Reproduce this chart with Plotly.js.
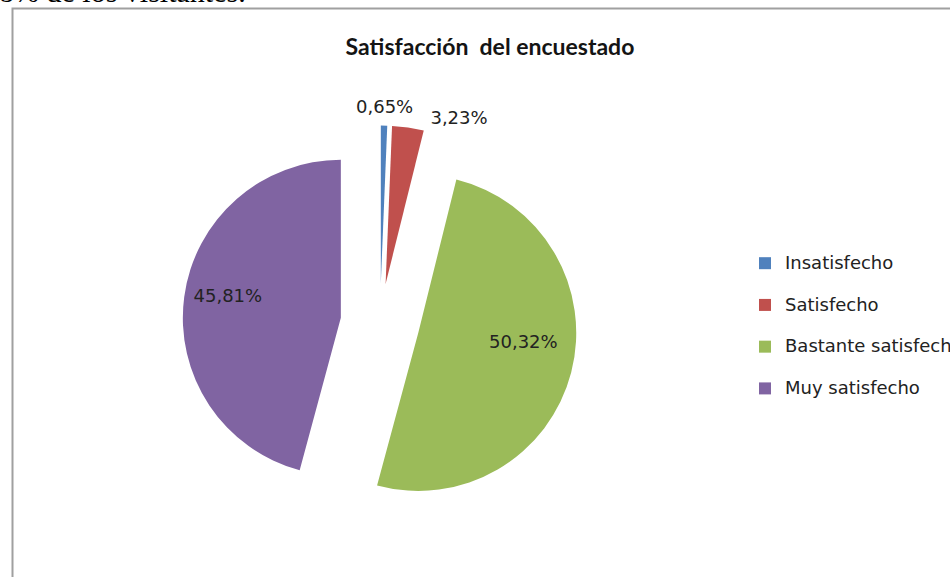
<!DOCTYPE html>
<html>
<head>
<meta charset="utf-8">
<script src="https://cdn.plot.ly/plotly-3.0.1.min.js"></script>
<style>html,body{margin:0;padding:0;background:#fff;}#chart{width:950px;height:577px;}</style>
</head>
<body>
<div id="chart"></div>
<script>
var categories = ["Insatisfecho", "Satisfecho", "Bastante satisfecho", "Muy satisfecho"];
var percentValues = [0.65, 3.23, 50.32, 45.81];
var sliceColors = ["#4F81BD", "#C0504D", "#9BBB59", "#8064A2"];
var chartTitle = "Satisfacción  del encuestado";
var pageText = "8% de los visitantes.";

var W = 950, H = 577;
function px(x) { return x / W; }
function py(y) { return 1 - y / H; }

var pullAmt = 0.25;
var radius = 158;
var boxHalf = radius * (1 + pullAmt);
var cx = 380, cy = 323;

var NB = '\u00A0';
function pad(n) { return new Array(n + 1).join(NB); }

var labelTexts = percentValues.map(function (v) { return v.toFixed(2).replace('.', ',') + '%'; });
// padding only shifts the visible glyphs to where the original chart shows them
var sliceTexts = labelTexts.slice();
sliceTexts[1] = pad(3) + labelTexts[1];
sliceTexts[2] = pad(10) + labelTexts[2] + '<br>' + NB;
sliceTexts[3] = labelTexts[3] + pad(12) + '<br>' + NB;

var legendLabels = categories.map(function (c) {
  return '<span style="font-size:18px">' + c + '</span><br> ';
});

// label of the thinnest slice: placed just above its exploded outer edge (computed from the data)
var total = percentValues.reduce(function (a, b) { return a + b; }, 0);
var midAng0 = (percentValues[0] / 2) / total * 2 * Math.PI;
var outerX = cx + (pullAmt * radius + radius) * Math.sin(midAng0);
var outerY = cy - (pullAmt * radius + radius) * Math.cos(midAng0);

var trace = {
  type: 'pie',
  labels: legendLabels,
  values: percentValues,
  text: sliceTexts,
  textinfo: 'text',
  hoverinfo: 'label+text',
  sort: false,
  direction: 'clockwise',
  rotation: 0,
  pull: [pullAmt, pullAmt, pullAmt, pullAmt],
  marker: { colors: sliceColors, line: { width: 0 } },
  textposition: ['none', 'outside', 'inside', 'inside'],
  insidetextorientation: 'horizontal',
  textfont: { family: 'DejaVu Sans', size: 18, color: '#222222' },
  outsidetextfont: { family: 'DejaVu Sans', size: 18, color: '#222222' },
  domain: {
    x: [px(cx - boxHalf - 2), px(cx + boxHalf + 2)],
    y: [py(cy + boxHalf), py(cy - boxHalf)]
  }
};

var layout = {
  width: W, height: H,
  margin: { l: 0, r: 0, t: 0, b: 0, pad: 0, autoexpand: false },
  paper_bgcolor: '#ffffff',
  plot_bgcolor: '#ffffff',
  font: { family: 'DejaVu Sans', size: 18, color: '#222222' },
  title: {
    text: chartTitle,
    x: px(490), xref: 'container', xanchor: 'center',
    y: py(47), yref: 'container', yanchor: 'middle',
    font: { family: 'Lato', size: 23, weight: 'bold', color: '#141414' }
  },
  showlegend: true,
  legend: {
    x: px(745), xanchor: 'left',
    y: py(247), yanchor: 'top',
    font: { family: 'DejaVu Sans', size: 14.9, color: '#222222' },
    valign: 'top',
    bgcolor: 'rgba(0,0,0,0)',
    borderwidth: 0
  },
  shapes: [{
    type: 'rect', xref: 'paper', yref: 'paper',
    x0: px(12.5), x1: px(960), y0: py(590), y1: py(8.5),
    line: { color: '#a0a0a0', width: 2 }, fillcolor: 'rgba(0,0,0,0)', layer: 'below'
  }],
  annotations: [{
    text: pageText, xref: 'paper', yref: 'paper',
    x: px(-3), xanchor: 'left', y: py(-8), yanchor: 'middle',
    showarrow: false,
    font: { family: 'Liberation Serif', size: 30, color: '#000000' }
  }, {
    text: labelTexts[0], xref: 'paper', yref: 'paper',
    x: px(outerX), xanchor: 'center', y: py(outerY - 19), yanchor: 'middle',
    showarrow: false,
    font: { family: 'DejaVu Sans', size: 18, color: '#222222' }
  }]
};

Plotly.newPlot('chart', [trace], layout, { displayModeBar: false, staticPlot: true });
</script>
</body>
</html>
